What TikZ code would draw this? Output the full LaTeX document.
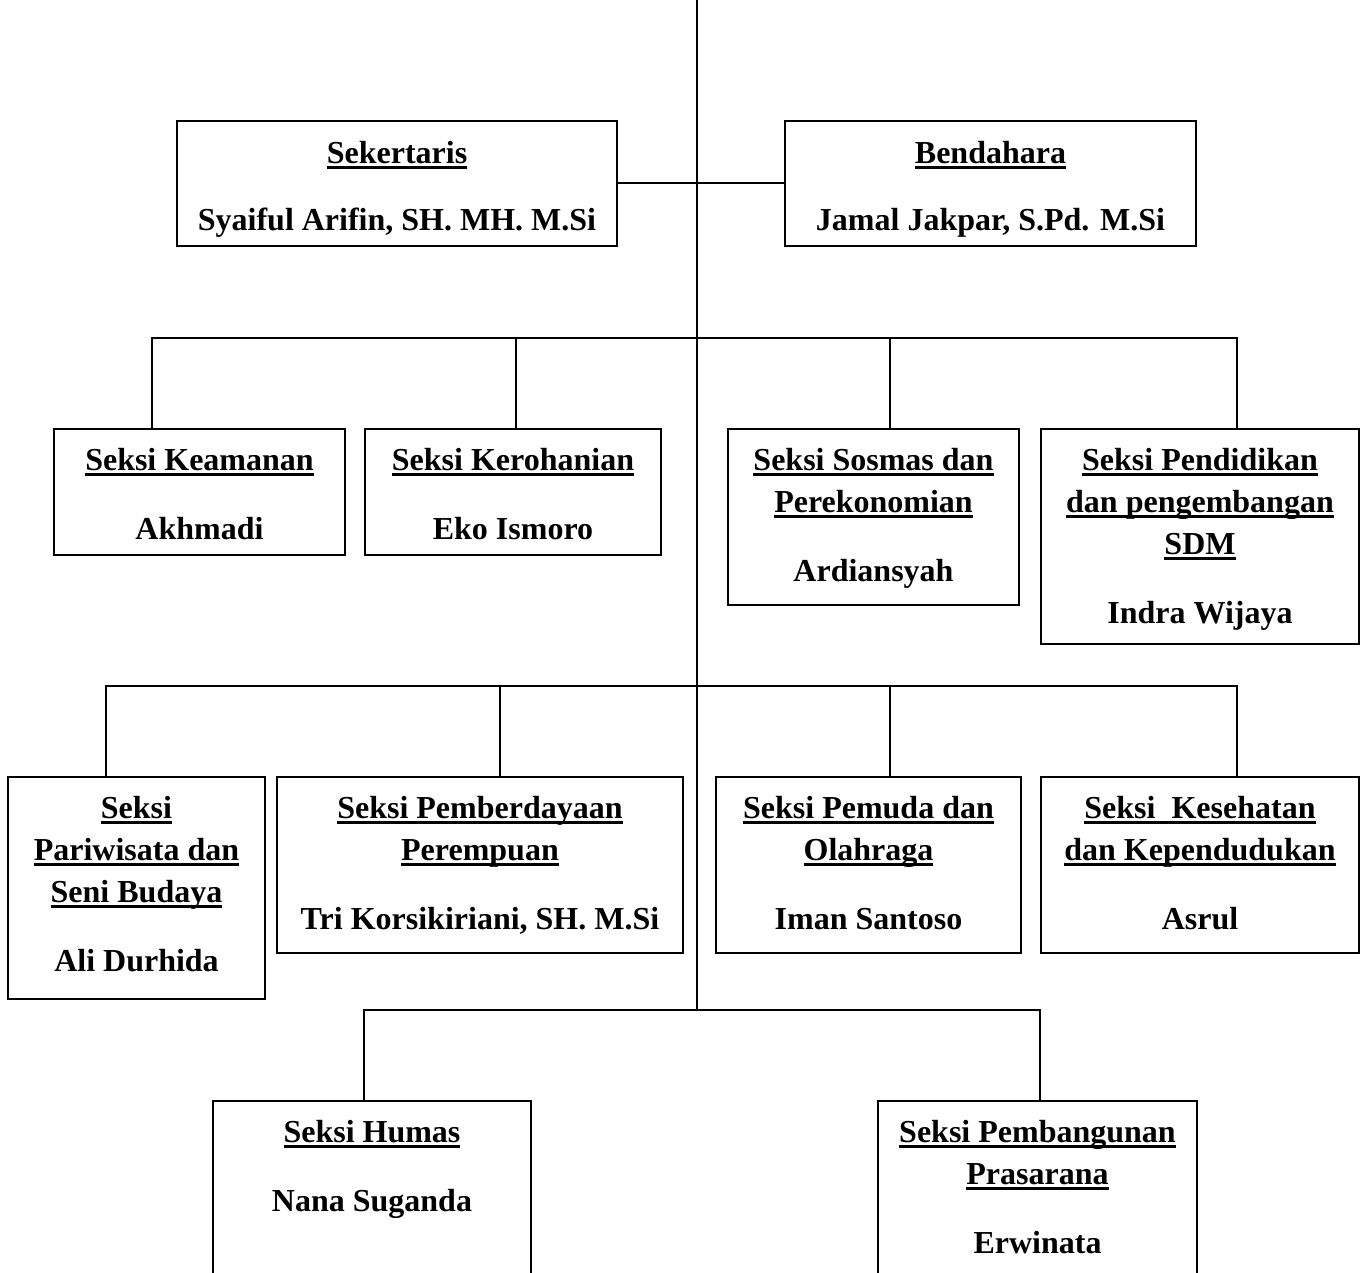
\documentclass[tikz,border=0pt]{standalone}
\usepackage{fontspec}
\setmainfont{Liberation Serif}
\usetikzlibrary{calc}
\newcommand\ttl[1]{\setbox0\hbox{#1}\rlap{\rule[-5.5pt]{\wd0}{2.8pt}}\box0}
\newcommand\topst{\rule{0pt}{24pt}}
\tikzset{
  orgbox/.style={draw, line width=2pt, anchor=north west, inner sep=0pt},
  lbl/.style={anchor=north, inner sep=0pt, align=center, font=\fontsize{32}{42}\selectfont\bfseries},
  conn/.style={line width=2pt},
}
\begin{document}
\begin{tikzpicture}[x=1pt,y=-1pt]
\useasboundingbox (0,0) rectangle (1364,1273);
\clip (0,0) rectangle (1364,1273);
% boxes
\node[orgbox, minimum width=440pt, minimum height=125pt] (sek) at (176,120) {};
\node[orgbox, minimum width=411pt, minimum height=125pt] (ben) at (784,120) {};
\node[orgbox, minimum width=291pt, minimum height=126pt] (kea) at (53,428) {};
\node[orgbox, minimum width=296pt, minimum height=126pt] (ker) at (364,428) {};
\node[orgbox, minimum width=291pt, minimum height=176pt] (sos) at (727,428) {};
\node[orgbox, minimum width=318pt, minimum height=215pt] (pen) at (1040,428) {};
\node[orgbox, minimum width=257pt, minimum height=222pt] (par) at (7,776) {};
\node[orgbox, minimum width=406pt, minimum height=176pt] (pem) at (276,776) {};
\node[orgbox, minimum width=305pt, minimum height=176pt] (pmd) at (715,776) {};
\node[orgbox, minimum width=318pt, minimum height=176pt] (kes) at (1040,776) {};
\node[orgbox, minimum width=318pt, minimum height=260pt] (hum) at (212,1100) {};
\node[orgbox, minimum width=319pt, minimum height=260pt] (bpr) at (877,1100) {};
% labels
\node[lbl] (sekT) at ($(sek.north)+(0,19)$) {\topst\ttl{Sekertaris}\\[25pt]Syaiful Arifin, SH. MH. M.Si};
\node[lbl] (benT) at ($(ben.north)+(0,19)$) {\topst\ttl{Bendahara}\\[25pt]Jamal Jakpar, S.Pd. M.Si};
\node[lbl] (keaT) at ($(kea.north)+(0,18)$) {\topst\ttl{Seksi Keamanan}\\[27pt]Akhmadi};
\node[lbl] (kerT) at ($(ker.north)+(0,18)$) {\topst\ttl{Seksi Kerohanian}\\[27pt]Eko Ismoro};
\node[lbl] (sosT) at ($(sos.north)+(0,18)$) {\topst\ttl{Seksi Sosmas dan}\\\ttl{Perekonomian}\\[27pt]Ardiansyah};
\node[lbl] (penT) at ($(pen.north)+(0,18)$) {\topst\ttl{Seksi Pendidikan}\\\ttl{dan pengembangan}\\\ttl{SDM}\\[27pt]Indra Wijaya};
\node[lbl] (parT) at ($(par.north)+(0,18)$) {\topst\ttl{Seksi}\\\ttl{Pariwisata dan}\\\ttl{Seni Budaya}\\[27pt]Ali Durhida};
\node[lbl] (pemT) at ($(pem.north)+(0,18)$) {\topst\ttl{Seksi Pemberdayaan}\\\ttl{Perempuan}\\[27pt]Tri Korsikiriani, SH. M.Si};
\node[lbl] (pmdT) at ($(pmd.north)+(0,18)$) {\topst\ttl{Seksi Pemuda dan}\\\ttl{Olahraga}\\[27pt]Iman Santoso};
\node[lbl] (kesT) at ($(kes.north)+(0,18)$) {\topst\ttl{Seksi\ \ Kesehatan}\\\ttl{dan Kependudukan}\\[27pt]Asrul};
\node[lbl] (humT) at ($(hum.north)+(0,18)$) {\topst\ttl{Seksi Humas}\\[27pt]Nana Suganda};
\node[lbl] (bprT) at ($(bpr.north)+(0,18)$) {\topst\ttl{Seksi Pembangunan}\\\ttl{Prasarana}\\[27pt]Erwinata};
% trunk
\coordinate (top) at (697,0);
\coordinate (bot) at (697,1010);
\draw[conn] (top) -- (bot);
\draw[conn] (sek.east) -- (ben.west);
% row 2
\coordinate (a1) at (152,338);
\coordinate (a2) at (516,338);
\coordinate (a3) at (890,338);
\coordinate (a4) at (1237,338);
\draw[conn] (a1 |- kea.north) -- (a1) -- (a4) -- (a4 |- pen.north);
\draw[conn] (a2) -- (a2 |- ker.north);
\draw[conn] (a3) -- (a3 |- sos.north);
% row 3
\coordinate (b1) at (106,686);
\coordinate (b2) at (500,686);
\coordinate (b3) at (890,686);
\coordinate (b4) at (1237,686);
\draw[conn] (b1 |- par.north) -- (b1) -- (b4) -- (b4 |- kes.north);
\draw[conn] (b2) -- (b2 |- pem.north);
\draw[conn] (b3) -- (b3 |- pmd.north);
% row 4
\coordinate (c1) at (364,1010);
\coordinate (c2) at (1040,1010);
\draw[conn] (c1 |- hum.north) -- (c1) -- (c2) -- (c2 |- bpr.north);
\end{tikzpicture}
\end{document}
